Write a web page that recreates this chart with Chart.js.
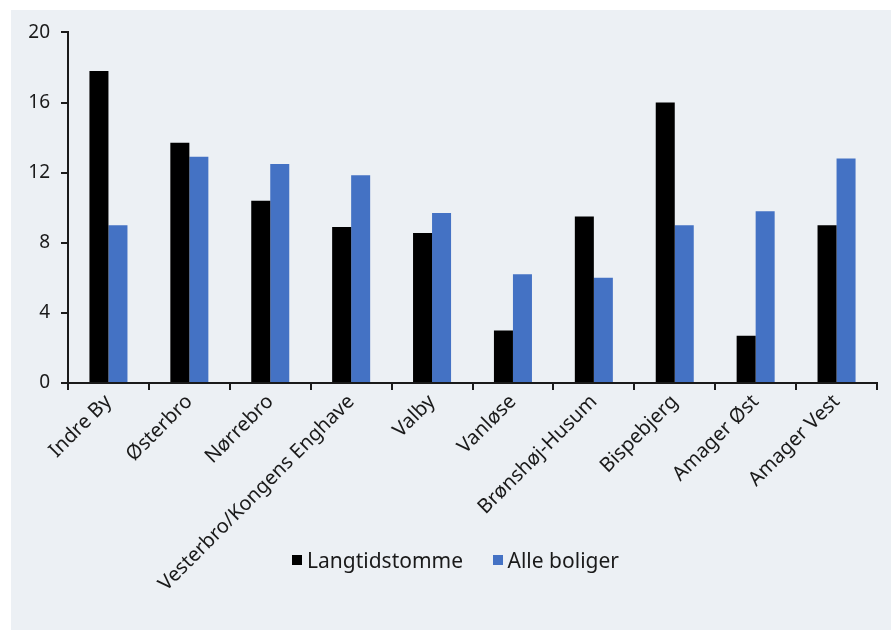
<!DOCTYPE html>
<html>
<head>
  <meta charset="utf-8">
  <title>Langtidstomme boliger</title>
  <script src="https://cdn.jsdelivr.net/npm/chart.js"></script>
  <style>
    body { margin: 0; background: #fff; font-family: "Noto Sans", Arial; }
    .panel { position: absolute; left: 11px; top: 10px; width: 880px; height: 620px; background: #ECF0F4; }
    #chart { position: absolute; left: 0; top: 0; }
    .legend { position: absolute; top: 534px; left: 281px; font-size: 21px; color: #1a1a1a; white-space: nowrap; }
    .legend span { display: inline-block; vertical-align: middle; }
    .box { width: 10px; height: 10px; margin-right: 5px; }
  </style>
</head>
<body>
  <div class="panel">
    <canvas id="chart" width="880" height="620"></canvas>
    <div class="legend">
      <span class="box" style="background:#000"></span><span>Langtidstomme</span>
      <span class="box" style="background:#4472C4; margin-left:24px"></span><span>Alle boliger</span>
    </div>
  </div>

  <script>
    // data
    const categories = ['Indre By', 'Østerbro', 'Nørrebro', 'Vesterbro/Kongens Enghave', 'Valby',
      'Vanløse', 'Brønshøj-Husum', 'Bispebjerg', 'Amager Øst', 'Amager Vest'];
    const langtidstomme = [17.8, 13.7, 10.4, 8.9, 8.55, 3.0, 9.5, 16.0, 2.7, 9.0];
    const alleBoliger = [9.0, 12.9, 12.5, 11.85, 9.7, 6.2, 6.0, 9.0, 9.8, 12.8];
    const yTicks = [0, 4, 8, 12, 16, 20];

    const ink = '#1a1a1a';

    new Chart(document.getElementById('chart'), {
      type: 'bar',
      data: {
        labels: categories,
        datasets: [
          { label: 'Langtidstomme', data: langtidstomme, backgroundColor: '#000000' },
          { label: 'Alle boliger', data: alleBoliger, backgroundColor: '#4472C4' }
        ]
      },
      options: {
        responsive: false,
        animation: false,
        layout: { padding: { top: 20, right: 14, left: 0, bottom: 0 } },
        datasets: { bar: { categoryPercentage: 0.47, barPercentage: 1 } },
        plugins: { legend: { display: false }, tooltip: { enabled: false } },
        scales: {
          x: {
            afterFit: s => { s.height = 247; },
            border: { color: ink, width: 2 },
            grid: { drawOnChartArea: false, color: ink, lineWidth: 2, tickLength: 7 },
            ticks: { color: ink, font: { family: '"Noto Sans", Arial', size: 20 }, minRotation: 45, maxRotation: 45, padding: 0 }
          },
          y: {
            min: 0, max: 20,
            afterFit: s => { s.width = 57; },
            afterBuildTicks: s => { s.ticks = yTicks.map(v => ({ value: v })); },
            border: { color: ink, width: 2 },
            grid: { drawOnChartArea: false, color: ink, lineWidth: 2, tickLength: 7 },
            ticks: { color: ink, font: { family: '"Noto Sans", Arial', size: 19 }, padding: 11 }
          }
        }
      }
    });
  </script>
</body>
</html>
